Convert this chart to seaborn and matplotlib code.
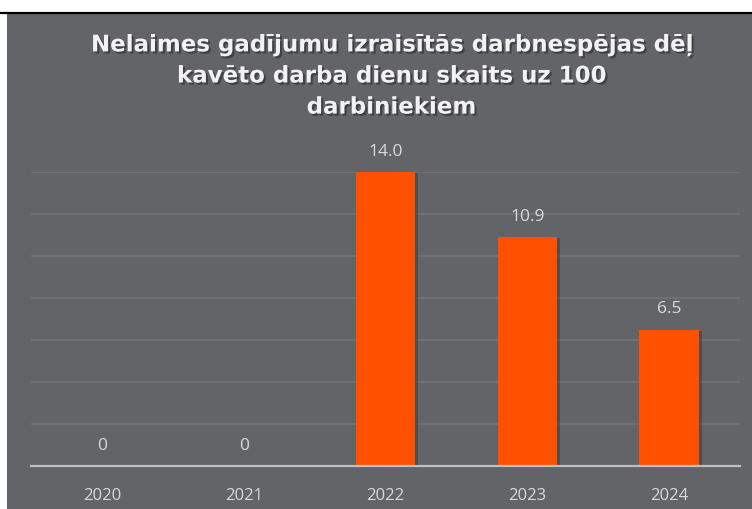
import matplotlib
matplotlib.use("Agg")
import matplotlib.pyplot as plt
import matplotlib.patheffects as pe
from matplotlib.patches import Rectangle
from matplotlib.lines import Line2D
import seaborn as sns
import pandas as pd

years = ["2020", "2021", "2022", "2023", "2024"]
values = [0, 0, 14.0, 10.9, 6.5]
labels = ["0", "0", "14.0", "10.9", "6.5"]
title = "Nelaimes gadījumu izraisītās darbnespējas dēļ\nkavēto darba dienu skaits uz 100\ndarbiniekiem"

sns.set_theme(style="white")
plt.rcParams["font.family"] = ["Open Sans", "DejaVu Sans"]

BG = "#636468"
GRID = "#727377"
TXT = "#D9D9D9"
BAR = "#FF5000"

W, H = 752, 509
fig = plt.figure(figsize=(W / 100, H / 100), dpi=100, facecolor="white")
fig.patches.append(Rectangle((7 / W, 0), 1 - 7 / W, 1 - 13 / H, transform=fig.transFigure,
                             facecolor=BG, edgecolor="none", zorder=-10))
fig.lines.append(Line2D([0, 1], [1 - 12.5 / H, 1 - 12.5 / H], transform=fig.transFigure,
                        color="black", linewidth=1.6, zorder=-5))

ax = fig.add_axes([31 / W, (H - 466) / H, (740 - 31) / W, (466 - 172) / H])
ax.set_facecolor("none")
ax.set_zorder(1)

df = pd.DataFrame({"year": years, "value": values})
sns.barplot(data=df, x="year", y="value", color=BAR, width=0.42, saturation=1, ax=ax,
            zorder=3, edgecolor="none", linewidth=0)
for p in ax.patches:
    p.set_path_effects([pe.SimplePatchShadow(offset=(2, -1), shadow_rgbFace="#3a3a3c", alpha=0.5), pe.Normal()])

ax.set_ylim(0, 14)
ax.set_xlim(-0.5, 4.5)
ax.set_yticks([0, 2, 4, 6, 8, 10, 12, 14])
ax.yaxis.grid(True, color=GRID, linewidth=1.2, zorder=0)
ax.set_axisbelow(True)
for s in ["top", "right", "left"]:
    ax.spines[s].set_visible(False)
ax.spines["bottom"].set_color("#BFBFBF")
ax.spines["bottom"].set_linewidth(1.6)
ax.spines["bottom"].set_zorder(4)
ax.tick_params(axis="y", left=False, labelleft=False)
ax.tick_params(axis="x", bottom=False, colors=TXT, labelsize=12, pad=10)
ax.set_xlabel("")
ax.set_ylabel("")

for i, (v, lab) in enumerate(zip(values, labels)):
    ax.annotate(lab, (i, v), xytext=(0, 14.5), textcoords="offset points", ha="center",
                va="center", color=TXT, fontsize=12.5, annotation_clip=False)

fig.text(391 / W, 1 - 76 / H, title, ha="center", va="center", color="#F2F2F2",
         fontsize=16.5, fontweight="bold", family=["DejaVu Sans"], linespacing=1.45,
         path_effects=[pe.withSimplePatchShadow(offset=(1.5, -1.5), shadow_rgbFace="#2a2a2a", alpha=0.6)])

fig.savefig("out.png", dpi=100, facecolor="white")
